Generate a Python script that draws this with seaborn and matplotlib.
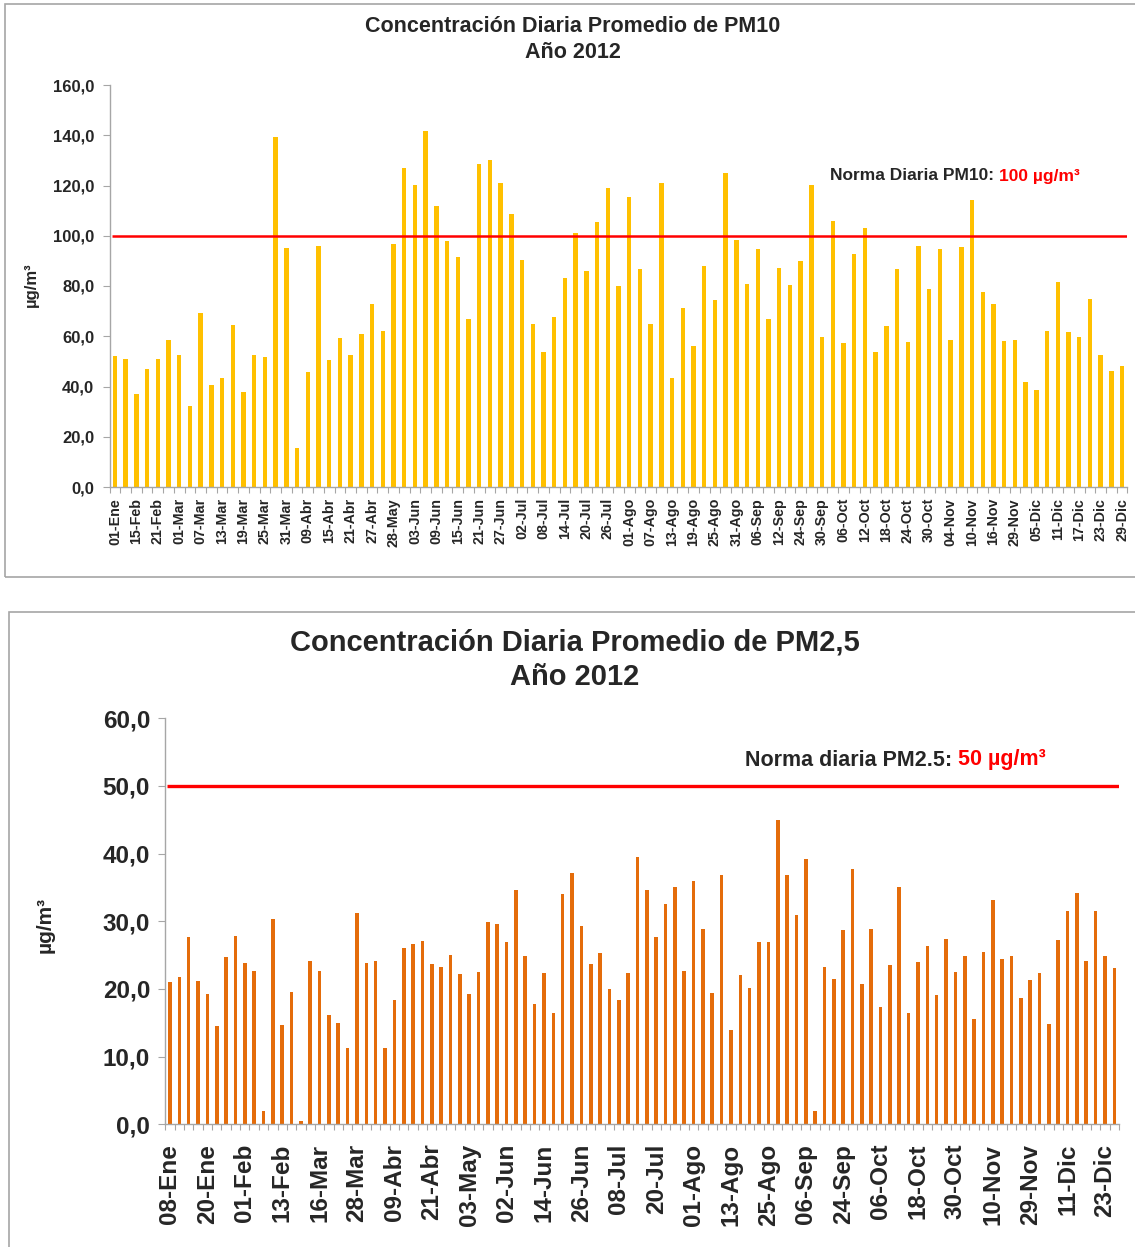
import numpy as np
import matplotlib
matplotlib.use('Agg')
import matplotlib.pyplot as plt
import matplotlib.ticker as mtick
from matplotlib.patches import Rectangle
import seaborn as sns

sns.set_style('white')
plt.rcParams['font.family'] = ['Liberation Sans', 'DejaVu Sans']

# PM10 - 95 muestras, etiqueta cada 2 barras
pm10_labels = ['01-Ene', '15-Feb', '21-Feb', '01-Mar', '07-Mar', '13-Mar', '19-Mar', '25-Mar',
               '31-Mar', '09-Abr', '15-Abr', '21-Abr', '27-Abr', '28-May', '03-Jun', '09-Jun',
               '15-Jun', '21-Jun', '27-Jun', '02-Jul', '08-Jul', '14-Jul', '20-Jul', '26-Jul',
               '01-Ago', '07-Ago', '13-Ago', '19-Ago', '25-Ago', '31-Ago', '06-Sep', '12-Sep',
               '24-Sep', '30-Sep', '06-Oct', '12-Oct', '18-Oct', '24-Oct', '30-Oct', '04-Nov',
               '10-Nov', '16-Nov', '29-Nov', '05-Dic', '11-Dic', '17-Dic', '23-Dic', '29-Dic']
pm10_values = [52.0, 50.9, 37.0, 46.8, 50.9, 58.4, 52.7, 32.1, 69.1, 40.6,
               43.5, 64.3, 37.8, 52.4, 51.8, 139.2, 95.1, 15.7, 45.6, 96.0,
               50.6, 59.3, 52.4, 61.0, 72.7, 62.2, 96.6, 127.0, 120.1, 141.6,
               111.8, 98.0, 91.7, 67.0, 128.7, 130.1, 121.0, 108.7, 90.5, 64.9,
               53.9, 67.6, 83.1, 101.2, 86.0, 105.5, 119.2, 80.1, 115.6, 86.7,
               64.9, 121.0, 43.5, 71.2, 56.0, 88.1, 74.5, 124.8, 98.5, 80.7,
               94.7, 66.7, 87.2, 80.4, 90.0, 120.1, 59.6, 105.8, 57.5, 92.7,
               103.2, 53.6, 64.1, 86.7, 57.7, 95.9, 78.9, 94.7, 58.7, 95.4,
               114.4, 77.8, 72.7, 58.1, 58.7, 41.9, 38.7, 62.2, 81.4, 61.6,
               59.8, 74.8, 52.7, 46.1, 48.0]
norma_pm10 = 100

# PM2,5 - 102 muestras, etiqueta cada 4 barras
pm25_labels = ['08-Ene', '20-Ene', '01-Feb', '13-Feb', '16-Mar', '28-Mar', '09-Abr', '21-Abr',
               '03-May', '02-Jun', '14-Jun', '26-Jun', '08-Jul', '20-Jul', '01-Ago', '13-Ago',
               '25-Ago', '06-Sep', '24-Sep', '06-Oct', '18-Oct', '30-Oct', '10-Nov', '29-Nov',
               '11-Dic', '23-Dic']
pm25_values = [21.0, 21.7, 27.7, 21.2, 19.3, 14.5, 24.7, 27.9, 23.9, 22.6,
               1.9, 30.4, 14.7, 19.5, 0.5, 24.2, 22.6, 16.1, 15.0, 11.3,
               31.2, 23.8, 24.2, 11.3, 18.3, 26.1, 26.7, 27.1, 23.7, 23.2,
               25.0, 22.2, 19.3, 22.5, 29.9, 29.6, 27.0, 34.6, 24.8, 17.8,
               22.4, 16.4, 34.1, 37.1, 29.3, 23.7, 25.3, 20.0, 18.3, 22.3,
               39.5, 34.6, 27.7, 32.5, 35.0, 22.6, 35.9, 28.9, 19.4, 36.8,
               14.0, 22.1, 20.2, 26.9, 26.9, 44.9, 36.8, 31.0, 39.2, 1.9,
               23.2, 21.4, 28.7, 37.7, 20.7, 28.8, 17.3, 23.5, 35.0, 16.4,
               24.0, 26.4, 19.1, 27.4, 22.5, 24.8, 15.6, 25.5, 33.2, 24.5,
               24.8, 18.6, 21.3, 22.3, 14.8, 27.2, 31.5, 34.2, 24.2, 31.5,
               24.8, 23.1]
norma_pm25 = 50

W, H = 1135, 1247
fig = plt.figure(figsize=(W / 100, H / 100), dpi=100)

def px(x, y):
    return x / W, 1 - y / H

# marcos de los graficos
fig.patches.append(Rectangle(px(5, 577), 1.0, 573 / H, transform=fig.transFigure,
                             fill=False, edgecolor='#A6A6A6', lw=1.2))
fig.patches.append(Rectangle(px(9, 1260), 1.0, 648 / H, transform=fig.transFigure,
                             fill=False, edgecolor='#A6A6A6', lw=1.2))

coma = mtick.FuncFormatter(lambda v, p: '{:.1f}'.format(v).replace('.', ','))


def bar_chart(ax, values, labels, step, color, width, norma, ymax, ystep,
              ytick_size, xtick_size, line_w, xpad):
    n = len(values)
    sns.barplot(x=np.arange(n), y=values, color=color, saturation=1, width=width,
                linewidth=0, ax=ax)
    ax.hlines(norma, -0.3, n - 0.5, color='#FF0000', lw=line_w, zorder=5)
    ax.set_xlim(-0.5, n - 0.5)
    ax.set_ylim(0, ymax)
    ax.set_yticks(np.arange(0, ymax + 1, ystep))
    ax.yaxis.set_major_formatter(coma)
    ax.set_xticks(np.arange(0, n, step))
    ax.set_xticklabels(labels, rotation=90, fontsize=xtick_size, va='top', fontweight='bold')
    ax.set_xticks(np.arange(-0.5, n, 1), minor=True)
    ax.tick_params(axis='x', which='major', length=0, pad=xpad)
    ax.tick_params(axis='x', which='minor', length=4, color='#A6A6A6', width=0.8, direction='out')
    ax.tick_params(axis='y', length=5, color='#A6A6A6', width=0.8, direction='out',
                   labelsize=ytick_size, pad=6)
    ax.xaxis.set_ticks_position('bottom')
    ax.yaxis.set_ticks_position('left')
    for lab in ax.get_yticklabels():
        lab.set_fontweight('bold')
    for s in ['top', 'right']:
        ax.spines[s].set_visible(False)
    for s in ['left', 'bottom']:
        ax.spines[s].set_color('#A6A6A6')
        ax.spines[s].set_linewidth(1)
    ax.set_xlabel('')
    ax.set_ylabel('')
    ax.patch.set_alpha(0)


# ---- PM10 ----
ax1 = fig.add_axes([109.6 / W, 1 - 487 / H, (1127.4 - 109.6) / W, 402 / H])
bar_chart(ax1, pm10_values, pm10_labels, 2, '#FFC000', 0.42, norma_pm10, 160, 20,
          12, 10.3, 1.8, 8)
fig.text(*px(573, 27), 'Concentración Diaria Promedio de PM10', ha='center', va='center',
         fontsize=15.5, fontweight='bold')
fig.text(*px(573, 53), 'Año 2012', ha='center', va='center', fontsize=15.5, fontweight='bold')
fig.text(*px(31, 285), 'µg/m³', rotation=90, ha='center', va='center', fontsize=12,
         fontweight='bold')
t1 = fig.text(*px(830, 176), 'Norma Diaria PM10: ', ha='left', va='center', fontsize=12.5,
              fontweight='bold')
ax1.annotate('100 µg/m³', xy=(1, 0.5), xycoords=t1, ha='left', va='center', fontsize=12.5,
             fontweight='bold', color='#FF0000')

# ---- PM2,5 ----
ax2 = fig.add_axes([165.3 / W, 1 - 1124.3 / H, (1119 - 165.3) / W, 406 / H])
bar_chart(ax2, pm25_values, pm25_labels, 4, '#E46C0A', 0.38, norma_pm25, 60, 10,
          17.5, 17.5, 2.4, 14)
fig.text(*px(575, 643), 'Concentración Diaria Promedio de PM2,5', ha='center', va='center',
         fontsize=21, fontweight='bold')
fig.text(*px(575, 677), 'Año 2012', ha='center', va='center', fontsize=21, fontweight='bold')
fig.text(*px(45, 925), 'µg/m³', rotation=90, ha='center', va='center', fontsize=15,
         fontweight='bold')
t2 = fig.text(*px(745, 760), 'Norma diaria PM2.5: ', ha='left', va='center', fontsize=15.5,
              fontweight='bold')
ax2.annotate('50 µg/m³', xy=(1, 0.5), xycoords=t2, ha='left', va='center', fontsize=15.5,
             fontweight='bold', color='#FF0000')

plt.savefig('out.png', dpi=100)
